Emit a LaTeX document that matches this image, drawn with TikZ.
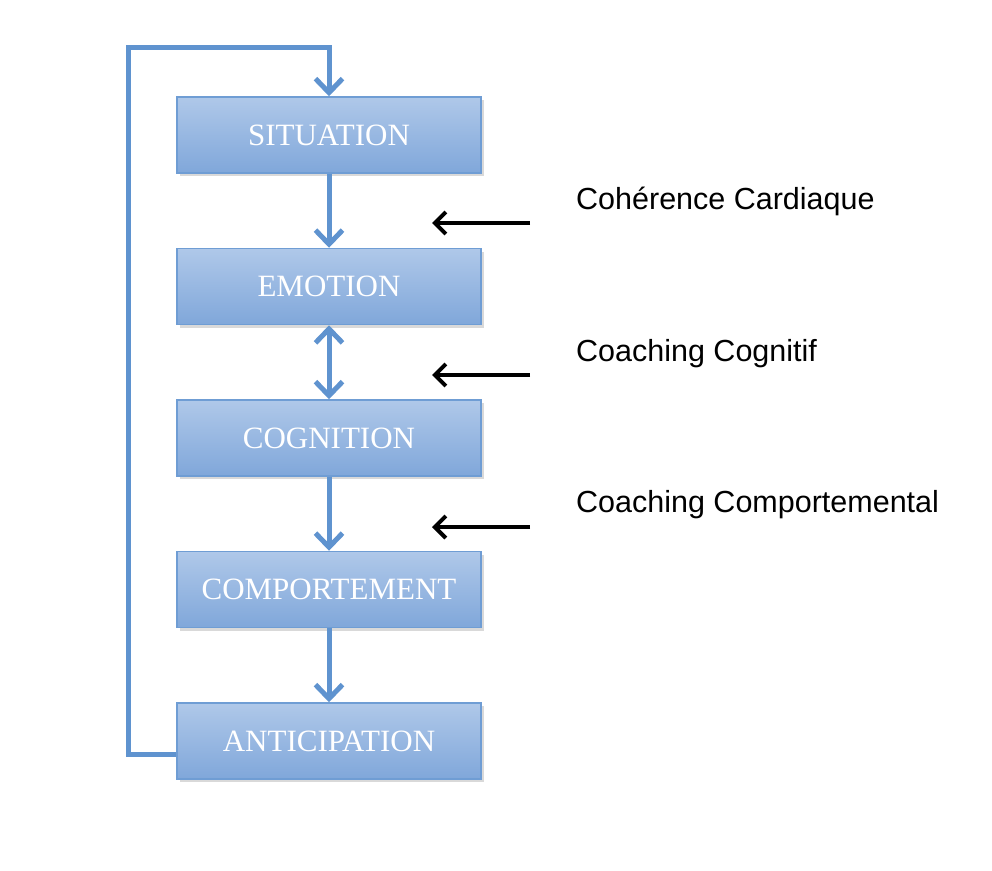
\documentclass[tikz,border=0pt]{standalone}
\usepackage{fontspec}
\setmainfont{Liberation Serif}
\newfontfamily\labfont{Liberation Sans}
\usetikzlibrary{arrows.meta,shadows}
\definecolor{boxtop}{HTML}{AFC8E9}
\definecolor{boxbot}{HTML}{80A7DA}
\definecolor{boxline}{HTML}{6F9DD4}
\definecolor{flowc}{HTML}{5F93CF}
\tikzset{
  stepbox/.style={rectangle, minimum width=304pt, minimum height=76pt, inner sep=0pt,
    top color=boxtop, bottom color=boxbot, draw=boxline, line width=1.5pt,
    drop shadow={opacity=0.3, shadow xshift=3pt, shadow yshift=-3pt},
    font=\fontsize{31}{34}\selectfont, text=white},
  flow/.style={draw=flowc, line width=5pt, line join=miter},
  flowtip/.style={-{Straight Barb[length=14pt, width=27pt, line width=5pt]}},
  biflow/.style={{Straight Barb[length=14pt, width=27pt, line width=5pt]}-{Straight Barb[length=14pt, width=27pt, line width=5pt]}},
  tool/.style={draw=black, line width=4pt, -{Straight Barb[length=11pt, width=22pt, line width=4pt]}},
  lab/.style={anchor=west, inner sep=0pt, font=\labfont\fontsize{30.5}{34}\selectfont}
}
\begin{document}
\begin{tikzpicture}[x=1pt,y=-1pt]
\useasboundingbox (0,0) rectangle (992,870);
\node[stepbox] (sit) at (329,135) {SITUATION};
\node[stepbox] (emo) at (329,286.5) {EMOTION};
\node[stepbox] (cog) at (329,438) {COGNITION};
\node[stepbox] (com) at (329,589.5) {COMPORTEMENT};
\node[stepbox] (ant) at (329,741) {ANTICIPATION};
\draw[flow,flowtip] (sit) -- (emo);
\draw[flow,biflow] (emo) -- (cog);
\draw[flow,flowtip] (cog) -- (com);
\draw[flow,flowtip] (com) -- (ant);
\coordinate (lb) at (128,754);
\coordinate (lt) at (128,47);
\draw[flow,flowtip] ([yshift=-13pt]ant.west) -- (lb) -- (lt) -| (sit.north);
\coordinate (a1s) at (530,223); \coordinate (a1e) at (432,223);
\coordinate (a2s) at (530,375); \coordinate (a2e) at (432,375);
\coordinate (a3s) at (530,527); \coordinate (a3e) at (432,527);
\draw[tool] (a1s) -- (a1e);
\draw[tool] (a2s) -- (a2e);
\draw[tool] (a3s) -- (a3e);
\node[lab] (l1) at (576,201) {Cohérence Cardiaque};
\node[lab] (l2) at (576,354) {Coaching Cognitif};
\node[lab] (l3) at (576,505) {Coaching Comportemental};
\end{tikzpicture}
\end{document}
